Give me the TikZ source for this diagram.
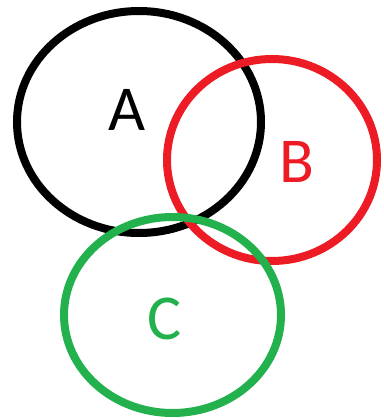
\documentclass[tikz,border=0pt]{standalone}
\usepackage{fontspec}
\setmainfont{Carlito}
\usepackage{xcolor}
\usetikzlibrary{shapes.geometric}

\definecolor{setred}{HTML}{ED1C24}
\definecolor{setgreen}{HTML}{22B14C}

\begin{document}
\begin{tikzpicture}[
  x=1pt, y=-1pt,
  set/.style={draw, ellipse, line width=8pt, inner sep=0pt},
  tag/.style={font=\fontsize{64}{64}\selectfont, inner sep=0pt}
]
  \useasboundingbox (0,0) rectangle (383,420);

  \node[set, minimum width=244pt, minimum height=222pt] (set_a) at (139,122) {};
  \node[set, draw=setred, minimum width=210pt, minimum height=202pt] (set_b) at (272,160) {};
  \node[set, draw=setgreen, minimum width=217pt, minimum height=196pt] (set_c) at (172.5,315) {};

  \node[tag] (tag_a) at (127.5,110) {A};
  \node[tag, text=setred] (tag_b) at (296.5,162) {B};
  \node[tag, text=setgreen] (tag_c) at (165,319) {C};
\end{tikzpicture}
\end{document}
